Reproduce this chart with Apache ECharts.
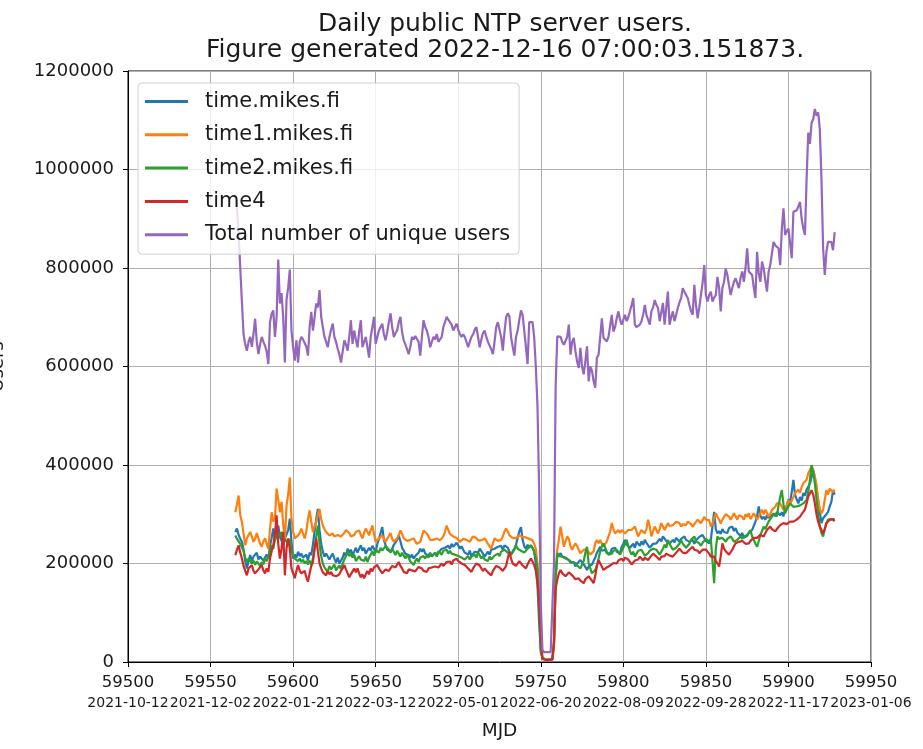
<!DOCTYPE html>
<html>
<head>
<meta charset="utf-8">
<script src="https://cdn.jsdelivr.net/npm/echarts@6/dist/echarts.min.js"></script>
<style>
html,body{margin:0;padding:0;background:#fff;}
#chart{width:923px;height:749px;}
</style>
</head>
<body>
<div id="chart"></div>
<script>
// ---- data (values in thousands of users, one value per day) ----
const startMJD = 59565;
const UNIT = 1000;
const seriesNames = ['time.mikes.fi', 'time1.mikes.fi', 'time2.mikes.fi', 'time4', 'Total number of unique users'];
const xTickDates = ['2021-10-12','2021-12-02','2022-01-21','2022-03-12','2022-05-01','2022-06-20','2022-08-09','2022-09-28','2022-11-17','2023-01-06'];

const timeMikes = [
264,271,258,250,244,228,205,190,206,217,
205,214,210,222,208,214,217,206,212,218,
210,235,252,271,248,266,277,255,257,238,
250,251,268,291,245,210,218,212,224,215,
220,212,210,218,206,222,217,238,265,290,
311,268,240,224,214,220,217,208,215,220,
210,202,212,200,197,212,222,215,230,222,
228,218,224,232,222,230,237,226,232,220,
224,232,226,236,230,222,240,250,262,274,
248,237,228,232,224,230,238,237,248,257,
245,232,228,220,224,217,212,218,210,215,
212,222,230,224,230,220,224,216,222,214,
217,222,214,222,224,230,226,232,228,236,
230,240,234,237,242,237,230,235,228,222,
224,218,226,215,217,224,228,222,230,226,
220,214,217,224,218,228,224,230,226,234,
230,236,228,237,240,232,224,218,217,228,
238,252,265,274,248,235,230,238,232,237,
232,224,200,156,80,20,8,5,5,5,
5,5,6,40,170,214,210,221,214,218,
212,216,207,202,198,203,194,200,196,207,
207,198,193,187,194,190,198,201,212,222,
228,234,226,222,228,221,225,220,230,228,
232,224,226,221,234,240,248,238,242,232,
234,240,232,244,241,236,245,238,248,242,
240,232,234,240,236,241,238,250,245,255,
255,246,250,240,241,248,243,252,248,244,
250,246,255,248,252,244,241,248,240,247,
248,254,250,258,255,246,250,241,248,252,
305,270,261,266,260,270,264,268,262,272,
268,275,266,272,263,261,256,262,252,248,
256,262,258,268,270,285,296,316,298,290,
295,289,298,292,300,295,302,296,305,302,
298,304,296,310,318,330,325,345,370,340,
330,322,335,328,343,338,350,356,362,375,
390,372,350,329,305,282,292,289,300,305,
316,325,349,340
];

const time1Mikes = [
304,320,338,298,284,260,237,251,258,264,
255,244,250,262,251,240,234,245,251,240,
230,270,304,285,291,352,330,304,325,280,
244,318,340,375,291,265,251,255,257,262,
271,260,251,265,290,308,285,264,275,284,
300,311,290,277,270,264,262,257,258,261,
255,251,258,261,255,251,262,268,271,262,
255,251,258,264,266,267,258,251,262,271,
265,257,268,277,260,244,248,251,255,257,
250,244,250,254,262,250,244,247,251,258,
267,260,251,248,246,244,248,250,251,245,
240,237,244,255,267,263,261,255,248,244,
248,250,251,249,247,247,255,265,277,268,
260,257,255,257,252,248,244,247,250,251,
248,246,244,250,255,257,252,247,244,247,
250,251,246,240,235,230,240,251,248,246,
244,248,255,265,271,265,257,255,252,251,
251,254,257,257,254,251,253,254,250,247,
247,240,230,200,143,60,8,5,5,5,
5,5,6,40,180,228,250,275,255,234,
245,255,250,235,228,235,241,235,228,221,
225,228,232,228,225,218,214,225,241,248,
241,248,240,234,240,245,248,265,282,270,
261,265,268,262,268,265,261,265,268,270,
268,272,275,265,255,262,268,265,261,270,
289,275,255,265,275,268,261,270,282,275,
268,275,282,276,275,278,282,285,289,282,
275,280,282,278,285,289,280,275,280,282,
289,285,282,288,295,289,285,288,275,280,
292,302,295,289,281,289,295,300,302,295,
289,295,302,296,289,298,302,295,289,300,
295,302,290,289,302,296,289,295,303,309,
300,309,303,295,300,309,305,315,322,318,
322,315,309,309,318,329,320,322,335,343,
340,350,343,355,363,360,370,383,380,397,
390,376,360,329,310,302,309,330,349,340,
352,349,345,350
];

const time2Mikes = [
257,250,245,240,237,225,212,203,210,205,
200,206,197,204,200,195,203,198,210,205,
214,225,237,230,248,255,250,258,264,240,
250,245,237,250,228,217,210,214,205,210,
203,208,200,205,198,206,197,210,230,255,
277,240,215,200,192,188,183,195,188,192,
198,186,190,196,188,200,208,215,224,215,
220,212,218,205,210,215,208,212,205,214,
203,212,218,225,216,228,230,222,232,226,
230,236,237,228,222,230,224,217,226,220,
214,222,216,210,218,212,204,208,197,205,
210,203,212,208,215,210,217,212,220,215,
218,222,216,225,224,218,226,222,228,220,
226,220,224,218,222,215,218,212,216,208,
210,215,208,214,210,218,212,222,217,210,
215,208,212,205,214,208,210,216,212,220,
215,224,220,228,230,222,226,218,225,230,
237,230,234,226,230,222,224,230,234,237,
232,224,210,190,110,25,8,5,5,5,
5,5,6,40,175,221,215,218,214,212,
210,214,207,205,202,206,201,196,193,190,
187,205,222,234,200,190,180,184,187,196,
210,225,235,241,232,224,218,214,220,226,
222,228,224,218,221,232,240,248,236,225,
218,224,214,220,226,222,228,222,216,220,
221,226,224,230,234,228,224,218,221,230,
238,232,248,240,234,228,224,232,236,240,
248,240,236,232,234,240,248,250,255,245,
248,241,236,242,246,250,248,244,250,246,
160,230,255,250,246,252,248,244,250,253,
255,250,244,248,248,252,255,250,255,252,
258,262,268,255,248,240,234,245,258,266,
275,270,278,285,289,295,300,302,296,318,
335,349,320,302,310,316,322,318,315,316,
316,312,318,316,322,326,329,345,370,400,
385,363,330,300,275,262,255,270,282,289,
286,290,292,290
];

const time4 = [
217,228,237,222,210,195,185,176,190,186,
197,185,180,176,188,192,197,186,180,190,
183,210,225,237,260,298,240,210,230,264,
176,230,251,230,190,180,170,185,197,185,
180,176,185,172,163,180,195,203,230,251,
225,200,190,182,178,176,185,178,183,176,
180,174,170,178,185,190,197,188,180,172,
176,184,190,182,190,180,172,178,170,178,
185,178,190,184,192,188,197,190,185,180,
183,188,192,185,190,195,198,192,198,203,
195,190,183,186,180,188,192,186,190,184,
188,193,197,190,185,188,183,190,186,192,
188,194,197,192,196,200,195,198,203,200,
204,198,206,202,210,205,208,200,204,197,
195,190,186,183,190,195,200,203,196,190,
185,190,186,182,180,176,185,190,195,197,
192,188,185,183,195,210,224,210,200,197,
195,200,205,203,196,192,190,198,205,210,
204,197,185,160,129,50,6,4,4,4,
4,4,5,35,150,167,180,187,180,176,
174,178,182,180,176,172,168,167,170,165,
162,160,168,172,174,170,165,160,175,195,
207,200,194,187,190,192,194,196,198,201,
204,200,206,207,210,205,212,214,208,204,
198,201,206,210,208,214,210,206,212,208,
207,212,215,220,221,214,210,207,214,218,
215,220,221,216,212,214,218,222,226,230,
228,222,218,221,224,228,232,234,228,224,
226,221,225,228,232,228,224,220,214,218,
214,205,200,194,215,241,230,225,221,218,
221,228,235,241,238,244,248,246,242,240,
244,241,246,250,252,255,252,255,258,255,
255,262,268,272,275,270,268,265,270,274,
278,280,282,278,280,282,285,282,285,289,
289,292,295,300,305,310,322,336,342,349,
340,322,300,285,275,268,261,270,282,285,
289,287,289,286
];

const totalUnique = [
945,920,870,800,730,665,645,632,650,660,
640,666,697,650,625,645,660,650,642,630,
605,690,707,714,660,700,817,728,749,700,
608,735,760,797,673,640,612,653,608,650,
660,655,653,640,622,680,711,673,700,728,
720,755,701,680,660,650,639,660,675,687,
660,650,636,625,608,630,653,645,632,660,
694,646,673,655,639,670,694,639,650,660,
640,618,660,680,701,646,660,673,680,687,
665,653,670,690,708,680,660,668,673,690,
701,670,653,645,635,625,640,660,655,662,
666,650,622,660,694,680,673,660,639,650,
660,655,666,650,646,660,680,690,701,695,
694,685,673,680,687,675,666,660,665,660,
650,639,650,660,665,675,680,660,639,655,
668,673,660,650,646,635,625,650,680,690,
694,660,632,670,700,708,701,660,640,622,
660,673,695,714,705,701,640,605,690,690,
690,660,600,520,350,120,25,20,20,20,
20,20,22,200,560,661,665,660,650,644,
644,660,685,624,650,658,631,610,597,638,
600,584,611,641,570,600,591,570,557,618,
624,660,698,658,655,651,660,658,705,671,
680,698,712,695,685,695,705,692,700,712,
725,739,685,680,678,685,692,705,725,705,
695,685,712,720,735,725,719,692,710,729,
685,720,752,685,700,712,692,705,719,730,
739,759,752,750,739,725,712,705,766,725,
698,720,745,770,806,745,732,745,752,732,
740,745,782,760,712,760,772,799,786,765,
745,760,772,779,775,759,780,793,772,800,
840,793,790,786,760,739,833,790,772,813,
799,775,752,793,806,830,853,846,842,840,
806,880,921,867,875,880,850,820,914,915,
917,925,934,900,880,867,981,1075,1052,1095,
1102,1123,1109,1116,1082,981,840,786,833,853,
850,853,836,873
];

// ---- chart ----
const colors = ['#1f77b4', '#ff7f0e', '#2ca02c', '#d62728', '#9467bd'];
const allValues = [timeMikes, time1Mikes, time2Mikes, time4, totalUnique];
const toPairs = arr => arr.map((v, i) => [startMJD + i, v * UNIT]);

const FONT = 'DejaVu Sans';
const chart = echarts.init(document.getElementById('chart'), null, {renderer: 'canvas'});

chart.setOption({
  animation: false,
  backgroundColor: '#ffffff',
  color: colors,
  title: {
    text: 'Daily public NTP server users.\nFigure generated 2022-12-16 07:00:03.151873.',
    left: 500,
    top: 6,
    textAlign: 'center',
    textStyle: {fontFamily: FONT, fontSize: 25, fontWeight: 'normal', color: '#1a1a1a', lineHeight: 26}
  },
  legend: {
    orient: 'vertical',
    left: 138,
    top: 83,
    icon: 'rect',
    itemWidth: 43,
    itemHeight: 3,
    itemGap: 12.3,
    padding: [8, 9, 9, 7],
    backgroundColor: 'rgba(255,255,255,0.8)',
    borderColor: '#d0d0d0',
    borderWidth: 1,
    borderRadius: 4,
    textStyle: {fontFamily: FONT, fontSize: 20.9, color: '#1a1a1a', padding: [0, 0, 0, 12]},
    data: seriesNames
  },
  grid: {
    left: 128, right: 52, top: 71, bottom: 87,
    outerBoundsMode: 'none',
    containLabel: false,
    show: true, borderColor: '#000', borderWidth: 1, backgroundColor: 'transparent'
  },
  xAxis: {
    type: 'value',
    min: 59500, max: 59950, interval: 50,
    name: 'MJD',
    nameLocation: 'middle',
    nameGap: 60,
    nameTextStyle: {fontFamily: FONT, fontSize: 18.5, color: '#1a1a1a'},
    axisLine: {show: true, onZero: false, lineStyle: {color: '#000', width: 1}},
    axisTick: {show: true, length: 5, lineStyle: {color: '#000'}},
    splitLine: {show: true, lineStyle: {color: '#b0b0b0', width: 1}},
    axisLabel: {
      margin: 11,
      color: '#1a1a1a',
      hideOverlap: false,
      showMinLabel: true, showMaxLabel: true,
      formatter: v => '{n|' + v + '}\n{d|' + xTickDates[Math.round((v - 59500) / 50)] + '}',
      rich: {
        n: {fontFamily: FONT, fontSize: 16.5, color: '#1a1a1a', lineHeight: 20},
        d: {fontFamily: FONT, fontSize: 14, color: '#1a1a1a', lineHeight: 20}
      }
    }
  },
  yAxis: {
    type: 'value',
    min: 0, max: 1200000, interval: 200000,
    name: 'Users',
    nameLocation: 'middle',
    nameGap: 121,
    nameTextStyle: {fontFamily: FONT, fontSize: 18, color: '#1a1a1a'},
    axisLine: {show: true, lineStyle: {color: '#000', width: 1}},
    axisTick: {show: true, length: 5, lineStyle: {color: '#000'}},
    splitLine: {show: true, lineStyle: {color: '#b0b0b0', width: 1}},
    axisLabel: {
      margin: 14,
      fontFamily: FONT, fontSize: 18, color: '#1a1a1a',
      formatter: v => String(v)
    }
  },
  series: seriesNames.map((name, k) => ({
    name: name,
    type: 'line',
    data: toPairs(allValues[k]),
    symbol: 'none',
    showSymbol: false,
    sampling: null,
    lineStyle: {width: 2.2, color: colors[k]},
    itemStyle: {color: colors[k]},
    emphasis: {disabled: true}
  }))
});
</script>
</body>
</html>
